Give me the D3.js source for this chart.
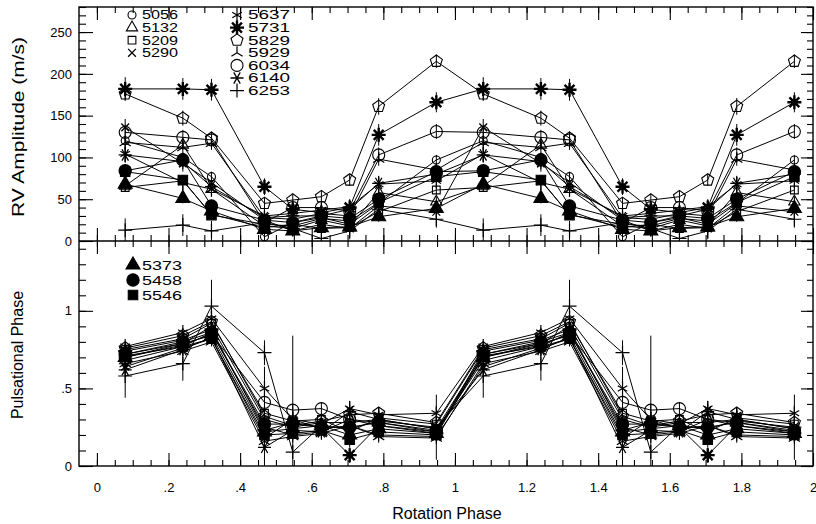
<!DOCTYPE html>
<html>
<head>
<meta charset="utf-8">
<script src="https://cdn.jsdelivr.net/npm/d3@7"></script>
<style>
  body { margin: 0; background: #fff; }
  text { font-family: "Liberation Sans", Arial, Helvetica, sans-serif; fill: #000; }
</style>
</head>
<body>
<svg id="chart" width="816" height="524"></svg>
<script>
// Rotation phases of the nine spectra (the second cycle repeats them +1)
const rotPhase = [0.079, 0.24, 0.32, 0.468, 0.547, 0.627, 0.706, 0.787, 0.948];
const cycles = [0, 1];

const wavelengths = ["5056", "5132", "5209", "5290", "5373", "5458", "5546",
                     "5637", "5731", "5829", "5929", "6034", "6140", "6253"];

// RV amplitude (m/s), one row per wavelength, one value per rotation phase
const amplitude = [
  [120, 100, 77, 5, 22, 28, 20, 45, 97],      // 5056
  [66, 115, 62, 18, 15, 25, 18, 58, 47],      // 5132
  [64, 72, 32, 16, 20, 15, 16, 35, 61],       // 5209
  [136, 93, 70, 25, 12, 20, 15, 42, 35],      // 5290
  [68, 51, 36, 14, 12, 16, 17, 29, 39],       // 5373
  [84, 97, 42, 25, 22, 30, 27, 50, 83],       // 5458
  [83, 73, 31, 20, 18, 27, 24, 46, 77],       // 5546
  [104, 70, 62, 30, 33, 37, 41, 68, 72],      // 5637
  [182, 182, 181, 65, 38, 34, 40, 127, 166],  // 5731
  [176, 147, 123, 45, 49, 53, 73, 161, 215],  // 5829
  [118, 112, 117, 28, 26, 33, 30, 98, 85],    // 5929
  [130, 124, 121, 22, 40, 40, 36, 103, 131],  // 6034
  [103, 95, 65, 28, 30, 30, 38, 69, 80],      // 6140
  [13, 19, 12, 22, 15, 3, 12, 38, 26]         // 6253
];

const ampError = [
  [6, 6, 6, 5, 5, 5, 5, 6, 6],
  [6, 6, 6, 5, 5, 5, 5, 6, 6],
  [5, 5, 5, 4, 4, 4, 4, 5, 5],
  [10, 10, 8, 6, 6, 6, 6, 8, 8],
  [6, 6, 6, 5, 5, 5, 5, 6, 6],
  [5, 5, 5, 4, 4, 4, 4, 5, 5],
  [5, 5, 5, 4, 4, 4, 4, 5, 5],
  [10, 9, 9, 7, 7, 7, 7, 9, 9],
  [14, 13, 13, 10, 8, 8, 8, 13, 12],
  [8, 9, 8, 7, 7, 7, 7, 10, 8],
  [8, 8, 8, 6, 6, 6, 6, 8, 8],
  [9, 9, 9, 6, 6, 6, 6, 9, 9],
  [9, 9, 9, 6, 6, 6, 6, 9, 9],
  [14, 13, 12, 10, 10, 10, 10, 11, 10]
];

// Pulsational phase, same layout
const pulsPhase = [
  [0.72, 0.79, 0.90, 0.30, 0.25, 0.28, 0.28, 0.30, 0.24],  // 5056
  [0.68, 0.77, 0.86, 0.25, 0.20, 0.22, 0.30, 0.26, 0.22],  // 5132
  [0.75, 0.82, 0.92, 0.34, 0.29, 0.30, 0.22, 0.31, 0.27],  // 5209
  [0.64, 0.76, 0.82, 0.18, 0.30, 0.24, 0.26, 0.20, 0.19],  // 5290
  [0.70, 0.79, 0.84, 0.22, 0.24, 0.26, 0.20, 0.24, 0.21],  // 5373
  [0.72, 0.80, 0.86, 0.27, 0.27, 0.25, 0.25, 0.28, 0.22],  // 5458
  [0.71, 0.77, 0.82, 0.20, 0.21, 0.23, 0.17, 0.22, 0.20],  // 5546
  [0.77, 0.86, 0.95, 0.50, 0.30, 0.27, 0.37, 0.33, 0.34],  // 5637
  [0.74, 0.81, 0.88, 0.23, 0.28, 0.25, 0.07, 0.26, 0.21],  // 5731
  [0.76, 0.84, 0.93, 0.32, 0.26, 0.29, 0.33, 0.34, 0.28],  // 5829
  [0.66, 0.74, 0.80, 0.16, 0.19, 0.21, 0.26, 0.19, 0.18],  // 5929
  [0.70, 0.78, 0.85, 0.41, 0.36, 0.37, 0.30, 0.28, 0.23],  // 6034
  [0.62, 0.75, 0.83, 0.12, 0.23, 0.22, 0.35, 0.30, 0.24],  // 6140
  [0.58, 0.66, 1.03, 0.73, 0.09, 0.26, 0.24, 0.29, 0.25]   // 6253
];

const phaseError = [
  [0.03, 0.03, 0.03, 0.04, 0.03, 0.03, 0.03, 0.03, 0.03],
  [0.03, 0.03, 0.03, 0.04, 0.03, 0.03, 0.03, 0.03, 0.03],
  [0.02, 0.02, 0.02, 0.03, 0.03, 0.03, 0.03, 0.03, 0.03],
  [0.04, 0.04, 0.04, 0.05, 0.05, 0.04, 0.05, 0.04, 0.04],
  [0.02, 0.02, 0.02, 0.03, 0.03, 0.03, 0.03, 0.03, 0.03],
  [0.02, 0.02, 0.02, 0.03, 0.03, 0.03, 0.03, 0.03, 0.03],
  [0.02, 0.02, 0.02, 0.03, 0.03, 0.03, 0.03, 0.03, 0.03],
  [0.03, 0.03, 0.04, 0.14, 0.05, 0.04, 0.05, 0.04, 0.04],
  [0.03, 0.03, 0.03, 0.05, 0.04, 0.04, 0.05, 0.04, 0.04],
  [0.03, 0.03, 0.03, 0.04, 0.04, 0.04, 0.04, 0.04, 0.04],
  [0.03, 0.03, 0.03, 0.04, 0.04, 0.04, 0.04, 0.04, 0.04],
  [0.03, 0.03, 0.03, 0.04, 0.04, 0.04, 0.04, 0.04, 0.04],
  [0.04, 0.04, 0.04, 0.12, 0.05, 0.05, 0.05, 0.05, 0.05],
  [0.14, 0.11, 0.17, 0.08, 0.75, 0.06, 0.12, 0.07, 0.21]
];

const markerTypes = ["circleS", "triOpen", "sqOpen", "times", "triFill", "circleFill", "sqFill",
                     "starThin", "starBold", "pentagon", "triY", "circleL", "asterisk", "plus"];

const legendTopA = ["5056", "5132", "5209", "5290"];
const legendTopB = ["5637", "5731", "5829", "5929", "6034", "6140", "6253"];
const legendBottom = ["5373", "5458", "5546"];

const rotTicks = [0, 0.2, 0.4, 0.6, 0.8, 1, 1.2, 1.4, 1.6, 1.8, 2];
const ampTicks = [0, 50, 100, 150, 200, 250];
const phaseTicks = [0, 0.5, 1];

// ---- layout
const L = 79, R = 813, T = 7, MID = 241, B = 466;
const svg = d3.select("#chart");

const x = d3.scaleLinear().domain([-0.05, 2]).range([L, R]);
const yAmp = d3.scaleLinear().domain([0, 280]).range([MID, T]);
const yPh = d3.scaleLinear().domain([0, 1.45]).range([B, MID]);

const defs = svg.append("defs");
defs.append("clipPath").attr("id", "clipTop")
  .append("rect").attr("x", L).attr("y", T).attr("width", R - L).attr("height", MID - T);
defs.append("clipPath").attr("id", "clipBot")
  .append("rect").attr("x", L).attr("y", MID).attr("width", R - L).attr("height", B - MID);

// marker shapes
function spokes(angles, r) {
  return angles.map(a => {
    const c = Math.cos(a * Math.PI / 180) * r, s = Math.sin(a * Math.PI / 180) * r;
    return `M${c},${-s}L${-c},${s}`;
  }).join("");
}

function drawMarker(g, type, cx, cy) {
  const p = g.append("path")
    .attr("transform", "translate(" + cx + "," + cy + ")")
    .attr("stroke", "#000").attr("fill", "none").attr("stroke-width", 1.1);
  switch (type) {
    case "circleS": p.attr("d", d3.symbol(d3.symbolCircle, Math.PI * 16)()); break;
    case "circleL": p.attr("d", d3.symbol(d3.symbolCircle, Math.PI * 36)()); break;
    case "circleFill": p.attr("d", d3.symbol(d3.symbolCircle, Math.PI * 38)()).attr("fill", "#000"); break;
    case "triOpen": p.attr("d", d3.symbol(d3.symbolTriangle, 55)()); break;
    case "triFill": p.attr("d", d3.symbol(d3.symbolTriangle, 85)()).attr("fill", "#000"); break;
    case "sqOpen": p.attr("d", d3.symbol(d3.symbolSquare, 60)()); break;
    case "sqFill": p.attr("d", d3.symbol(d3.symbolSquare, 90)()).attr("fill", "#000"); break;
    case "times": p.attr("d", spokes([45, 135], 5.5)).attr("stroke-width", 1.3); break;
    case "plus": p.attr("d", spokes([0, 90], 7)).attr("stroke-width", 1.2); break;
    case "starThin": p.attr("d", spokes([90], 7.5) + spokes([30, 150], 5.5)).attr("stroke-width", 1.2); break;
    case "starBold":
      p.attr("d", spokes([0, 45, 90, 135], 7)).attr("stroke-width", 2.4);
      g.append("circle").attr("cx", cx).attr("cy", cy).attr("r", 3.2);
      break;
    case "asterisk": p.attr("d", spokes([0, 60, 120], 6.5)).attr("stroke-width", 1.3); break;
    case "triY": p.attr("d", "M0,0L0,-6.5M0,0L-5.6,3.5M0,0L5.6,3.5").attr("stroke-width", 1.2); break;
    case "pentagon": {
      const pts = d3.range(5).map(k => {
        const a = -Math.PI / 2 + k * 2 * Math.PI / 5;
        return [6.3 * Math.cos(a), 6.3 * Math.sin(a)];
      });
      p.attr("d", "M" + pts.join("L") + "Z");
      break;
    }
  }
}

// ---- data panels
function drawPanel(values, errors, y, clipId) {
  const g = svg.append("g").attr("clip-path", "url(#" + clipId + ")");
  const line = d3.line().x(d => x(d.x)).y(d => y(d.v));
  const series = wavelengths.map((w, i) => ({
    w, type: markerTypes[i],
    pts: cycles.flatMap(c => rotPhase.map((p, j) => ({ x: p + c, v: values[i][j], e: errors[i][j] })))
  }));

  series.forEach(s => {
    g.append("path").attr("d", line(s.pts))
      .attr("fill", "none").attr("stroke", "#000").attr("stroke-width", 1);
  });
  series.forEach(s => {
    s.pts.forEach(d => {
      g.append("line")
        .attr("x1", x(d.x)).attr("x2", x(d.x))
        .attr("y1", y(d.v - d.e)).attr("y2", y(d.v + d.e))
        .attr("stroke", "#000").attr("stroke-width", 1);
    });
  });
  series.forEach(s => {
    s.pts.forEach(d => drawMarker(g, s.type, x(d.x), y(d.v)));
  });
}

drawPanel(amplitude, ampError, yAmp, "clipTop");
drawPanel(pulsPhase, phaseError, yPh, "clipBot");

// ---- axes
const rotMinor = d3.range(0, 2.001, 0.05);
const ampMinor = d3.range(0, 281, 10);
const phaseMinor = d3.range(0, 1.41, 0.1);

function fmtRot(v) {
  return String(+v.toFixed(1)).replace(/^0\./, ".");
}

function addAxis(axis, tx, ty) {
  const g = svg.append("g").attr("transform", "translate(" + tx + "," + ty + ")").call(axis);
  g.select(".domain").remove();
  g.selectAll(".tick line").attr("stroke", "#000").attr("stroke-width", 1.1);
  g.selectAll(".tick text").style("font-size", "13px")
    .style("font-family", '"Liberation Sans", Arial, sans-serif').attr("fill", "#000");
  return g;
}

const noLab = () => "";

// horizontal axes: top border, middle border (both ways), bottom border
[[d3.axisTop, T], [d3.axisBottom, MID], [d3.axisTop, MID]].forEach(([ax, yy]) => {
  addAxis(ax(x).tickValues(rotTicks).tickSizeInner(-13).tickSizeOuter(0).tickFormat(noLab), 0, yy);
  addAxis(ax(x).tickValues(rotMinor).tickSizeInner(-6).tickSizeOuter(0).tickFormat(noLab), 0, yy);
});
addAxis(d3.axisBottom(x).tickValues(rotTicks).tickSizeInner(-13).tickSizeOuter(0).tickPadding(17).tickFormat(fmtRot), 0, B);
addAxis(d3.axisBottom(x).tickValues(rotMinor).tickSizeInner(-6).tickSizeOuter(0).tickFormat(noLab), 0, B);

// vertical axes
addAxis(d3.axisLeft(yAmp).tickValues(ampTicks).tickSizeInner(-14).tickSizeOuter(0).tickPadding(7).tickFormat(d3.format("d")), L, 0);
addAxis(d3.axisLeft(yAmp).tickValues(ampMinor).tickSizeInner(-7).tickSizeOuter(0).tickFormat(noLab), L, 0);
addAxis(d3.axisRight(yAmp).tickValues(ampTicks).tickSizeInner(-12).tickSizeOuter(0).tickFormat(noLab), R, 0);
addAxis(d3.axisRight(yAmp).tickValues(ampMinor).tickSizeInner(-6).tickSizeOuter(0).tickFormat(noLab), R, 0);

addAxis(d3.axisLeft(yPh).tickValues(phaseTicks).tickSizeInner(-14).tickSizeOuter(0).tickPadding(7).tickFormat(v => fmtRot(v)), L, 0);
addAxis(d3.axisLeft(yPh).tickValues(phaseMinor).tickSizeInner(-7).tickSizeOuter(0).tickFormat(noLab), L, 0);
addAxis(d3.axisRight(yPh).tickValues(phaseTicks).tickSizeInner(-12).tickSizeOuter(0).tickFormat(noLab), R, 0);
addAxis(d3.axisRight(yPh).tickValues(phaseMinor).tickSizeInner(-6).tickSizeOuter(0).tickFormat(noLab), R, 0);

// frames
svg.append("rect").attr("x", L).attr("y", T).attr("width", R - L).attr("height", B - T)
  .attr("fill", "none").attr("stroke", "#000").attr("stroke-width", 1.4);
svg.append("line").attr("x1", L).attr("x2", R).attr("y1", MID).attr("y2", MID)
  .attr("stroke", "#000").attr("stroke-width", 1.4);

// ---- legends
const legend = svg.append("g");
function legendItem(w, sx, tx, cy, size, len) {
  const i = wavelengths.indexOf(w);
  drawMarker(legend, markerTypes[i], sx, cy);
  legend.append("text").attr("x", tx).attr("y", cy + size * 0.36)
    .style("font-size", size + "px")
    .attr("textLength", len).attr("lengthAdjust", "spacingAndGlyphs")
    .text(w);
}
legendTopA.forEach((w, k) => legendItem(w, 132, 142, 15 + k * 12.6, 12, 36));
legendTopB.forEach((w, k) => legendItem(w, 237, 248, 15 + k * 12.6, 12, 42));
legendBottom.forEach((w, k) => legendItem(w, 133, 142, 265 + k * 15, 13, 40));

// ---- axis titles
svg.append("text").attr("transform", "translate(24,127) rotate(-90)")
  .attr("text-anchor", "middle").style("font-size", "16px")
  .attr("textLength", 180).attr("lengthAdjust", "spacingAndGlyphs")
  .text("RV Amplitude (m/s)");
svg.append("text").attr("transform", "translate(23,355) rotate(-90)")
  .attr("text-anchor", "middle").style("font-size", "16px")
  .text("Pulsational Phase");
svg.append("text").attr("x", 447).attr("y", 519)
  .attr("text-anchor", "middle").style("font-size", "16px")
  .text("Rotation Phase");
</script>
</body>
</html>
